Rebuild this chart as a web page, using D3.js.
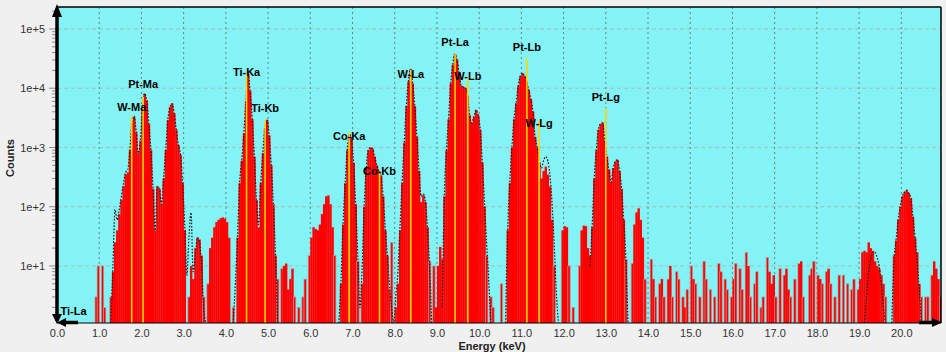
<!DOCTYPE html>
<html>
<head>
<meta charset="utf-8">
<script src="https://cdn.jsdelivr.net/npm/d3@7"></script>
<style>
body{margin:0;background:#f0f0f0;}
svg{display:block;font-family:"Liberation Sans",Arial,sans-serif;}
</style>
</head>
<body>
<svg id="chart" width="946" height="352"></svg>
<script>
// spectrum, counts per 0.05 keV channel group, one row per keV
const binWidth = 0.05;
const counts = [
  [0,0,0,0,0,0,0,0,0,0,0,0,0,0,0,0,0,0,3,10],
  [0,10,2,0,0,3,8,25,40,75,130,220,350,380,900,2600,3300,1800,800,1300],
  [4500,8000,6200,2500,900,200,40,220,200,110,300,900,2900,4800,5500,3800,2000,1100,750,250],
  [40,0,3,10,6,20,30,28,15,3,0,5,20,30,45,55,60,64,66,63],
  [55,30,0,2,0,30,250,600,1700,6000,17500,9000,3000,700,130,45,250,800,2100,2900],
  [1600,500,110,15,6,0,9,10,11,4,6,9,3,0,2,0,3,6,0,15],
  [30,45,42,40,50,75,110,150,155,110,45,15,0,0,5,50,250,900,1650,1400],
  [550,110,12,0,5,100,450,900,1000,950,700,500,400,330,150,40,15,4,25,0],
  [2,5,40,250,1200,5000,13000,21000,12000,5000,1500,400,120,155,120,45,12,0,10,2],
  [10,21,13,150,900,3000,12000,25000,38000,30000,18000,11000,10500,10000,7500,3500,2600,3300,4300,3500],
  [2000,550,100,15,0,3,2,0,0,0,5,0,0,40,250,1000,3000,5600,11000,16000],
  [18000,16000,13000,9300,6500,4000,1500,1000,550,300,400,475,350,220,60,10,0,0,0,40],
  [47,45,10,0,2,0,0,10,40,48,47,20,15,45,300,900,2000,2500,2600,1300],
  [700,420,260,450,580,620,400,200,60,13,0,0,11,50,80,94,60,30,6,0],
  [0,13,6,3,0,5,6,3,0,6,10,3,0,8,6,0,3,2,4,0],
  [10,6,5,0,3,0,12,6,0,4,0,3,0,11,8,0,6,4,0,3],
  [6,11,0,9,4,0,17,10,3,0,5,8,0,2,3,0,14,8,5,7],
  [3,0,9,0,7,9,4,3,0,6,0,11,12,3,0,0,7,9,12,0],
  [7,6,5,0,8,9,5,0,3,0,7,0,7,0,5,0,4,6,0,4],
  [6,17,18,17,25,20,18,12,10,9,7,5,3,0,0,0,15,27,60,100],
  [150,175,190,170,140,68,30,17,5,3,0,3,3,0,7,12,9,6,3,0]
];

// fitted envelope (dotted), each segment starts at fitStart[k] keV, same 0.05 keV step
const fitStart = [1.25, 4.15, 6.65, 9.1, 10.6, 12.6, 19.1, 19.75];
const fitCounts = [
  [1,10,90,60,90,150,250,380,420,900,2600,3400,1900,800,1300,4500,8200,6200,2500,900,200,40,220,200,110,300,900,2900,4800,5500,3800,2000,1100,750,250,50,7,30,80,8,15,30,25,10,2,1],
  [1,5,30,250,600,1700,6000,17500,9000,3000,700,130,50,250,800,2100,2900,1600,500,110,15,1],
  [1,5,50,250,900,1650,1400,550,110,15,2,8,100,450,900,1000,950,700,500,400,330,150,45,15,5,2,1,3,8,45,260,1200,5000,13000,21000,12000,5000,1500,420,150,165,125,45,10,1],
  [2,150,900,3000,12000,25000,38000,30000,18000,11000,10500,10000,7500,3500,2600,3300,4300,3500,2000,550,120,25,6,1],
  [1,40,250,1000,3000,5600,11000,16000,18000,16000,13000,9300,6500,4000,1500,1000,600,450,600,700,600,350,120,25,4,1],
  [10,45,300,900,2000,2500,2600,1300,700,420,260,450,580,620,400,200,60,13,1],
  [1,3,8,13,17,17,14,10,5,2,1],
  [1,12,27,60,100,150,175,190,170,140,68,30,12,4,1]
];

// element lines
const lineNames = ['Ti-La','W-Ma','Pt-Ma','Ti-Ka','Ti-Kb','Co-Ka','Co-Kb','W-La','Pt-La','W-Lb','Pt-Lb','W-Lg','Pt-Lg'];
const lineEnergy = [0.39,1.77,2.04,4.49,4.93,6.92,7.64,8.38,9.43,9.73,11.13,11.42,13.0];
const lineTop = [0,3270,7130,18100,2920,1830,373,20400,39400,14900,32500,2920,4650];
const labelCount = [1.7,4830,11500,18600,4590,1580,406,17400,60400,15700,49200,2560,6940];

const xTicks = d3.range(0, 21, 1);
const yTicks = [1e1, 1e2, 1e3, 1e4, 1e5];

const W = 946, H = 352;
const pLeft = 57, pRight = 941, pTop = 7, pBottom = 323;

const x = d3.scaleLinear().domain([0, 20.94]).range([pLeft, pRight]);
const y = d3.scaleLog().domain([1.09, 2.35e5]).range([pBottom, pTop]);

const svg = d3.select('#chart');
svg.append('rect').attr('width', W).attr('height', H).attr('fill', '#f0f0f0');
svg.append('defs').append('clipPath').attr('id', 'clip')
  .append('rect').attr('x', pLeft).attr('y', pTop).attr('width', pRight - pLeft).attr('height', pBottom - pTop);

svg.append('rect').attr('x', pLeft).attr('y', pTop).attr('width', pRight - pLeft).attr('height', pBottom - pTop)
  .attr('fill', '#84f3f5');

// grid
const grid = svg.append('g');
grid.selectAll('.hgrid').data(yTicks).enter().append('line')
  .attr('x1', pLeft).attr('x2', pRight)
  .attr('y1', d => y(d)).attr('y2', d => y(d))
  .attr('stroke', '#a9bcbd').attr('stroke-width', 1).attr('stroke-dasharray', '4,3');
grid.selectAll('.vgrid').data(xTicks.slice(1)).enter().append('line')
  .attr('x1', d => x(d)).attr('x2', d => x(d))
  .attr('y1', pTop).attr('y2', pBottom)
  .attr('stroke', '#6a8283').attr('stroke-width', 1).attr('stroke-dasharray', '2,3');

const plot = svg.append('g').attr('clip-path', 'url(#clip)');

// bars
const flat = counts.flat();
const bins = flat.map((c, i) => ({e: i * binWidth, c: c, lone: (flat[i - 1] || 0) === 0 || (flat[i + 1] || 0) === 0}));
plot.selectAll('.bar').data(bins.filter(d => d.c > 1.09)).enter().append('rect')
  .attr('x', d => x(d.e))
  .attr('width', d => x(d.e + binWidth) - x(d.e) + 0.3)
  .attr('y', d => y(d.c))
  .attr('height', d => pBottom - y(d.c))
  .attr('fill', '#ff0000')
  .attr('stroke', d => (d.c < 30 && d.lone) ? '#a8a8a8' : 'none')
  .attr('stroke-width', 0.7);

// fitted envelope
const fitLine = d3.line().x(d => x(d[0])).y(d => y(Math.max(d[1], 1.09))).curve(d3.curveMonotoneX);
for(let k = 0; k < fitStart.length; k++){
  let pts = fitCounts[k].map((c, j) => [fitStart[k] + j * binWidth + binWidth / 2, c]);
  plot.append('path').attr('d', fitLine(pts))
    .attr('fill', 'none').attr('stroke', '#1a1a1a').attr('stroke-width', 1.2)
    .attr('stroke-dasharray', '1.6,1.6');
}

// element markers
const markers = lineNames.map((n, i) => ({name: n, e: lineEnergy[i], top: lineTop[i], lab: labelCount[i]}));
plot.selectAll('.marker').data(markers.filter(d => d.top > 1.09)).enter().append('line')
  .attr('x1', d => x(d.e)).attr('x2', d => x(d.e))
  .attr('y1', pBottom).attr('y2', d => y(d.top))
  .attr('stroke', '#ffd400').attr('stroke-width', 1.6);

svg.selectAll('.elabel').data(markers).enter().append('text')
  .attr('x', d => x(d.e)).attr('y', d => y(d.lab)).attr('dy', '0.35em')
  .attr('text-anchor', 'middle')
  .attr('font-size', 11).attr('font-weight', 'bold').attr('fill', '#000')
  .text(d => d.name);

// frame
svg.append('line').attr('x1', pLeft).attr('x2', pRight).attr('y1', pTop).attr('y2', pTop).attr('stroke', '#000').attr('stroke-width', 1.5);
svg.append('line').attr('x1', pRight).attr('x2', pRight).attr('y1', pTop).attr('y2', pBottom).attr('stroke', '#000').attr('stroke-width', 1.5);
svg.append('line').attr('x1', pLeft).attr('x2', pRight).attr('y1', pBottom).attr('y2', pBottom).attr('stroke', '#000').attr('stroke-width', 1.2);

// y minor ticks
const minor = [];
for(let d = 1; d <= 1e5; d *= 10){
  for(let m = 1; m < 10; m++){
    if(d * m >= 1.09 && d * m <= 2.35e5) minor.push(d * m);
  }
}
svg.selectAll('.ymin').data(minor).enter().append('line')
  .attr('x1', d => yTicks.includes(d) ? pLeft - 8 : pLeft - 5).attr('x2', pLeft - 1)
  .attr('y1', d => y(d)).attr('y2', d => y(d))
  .attr('stroke', '#8c8c8c').attr('stroke-width', 1);

// axes labels
const xAxis = d3.axisBottom(x).tickValues(xTicks).tickSize(0).tickPadding(6).tickFormat(d3.format('.1f'));
const gx = svg.append('g').attr('transform', `translate(0,${pBottom})`).call(xAxis);
gx.select('.domain').remove();
gx.selectAll('text').attr('font-size', 11).attr('fill', '#333').attr('font-family', '"Liberation Sans",Arial,sans-serif');

const yAxis = d3.axisLeft(y).tickValues(yTicks).tickSize(0).tickPadding(12).tickFormat(d => '1e+' + Math.round(Math.log10(d)));
const gy = svg.append('g').attr('transform', `translate(${pLeft},0)`).call(yAxis);
gy.select('.domain').remove();
gy.selectAll('text').attr('font-size', 11).attr('fill', '#333').attr('font-family', '"Liberation Sans",Arial,sans-serif');

// left axis bar with arrows
svg.append('line').attr('x1', pLeft).attr('x2', pLeft).attr('y1', pTop + 6).attr('y2', pBottom - 2)
  .attr('stroke', '#000').attr('stroke-width', 3.5);
svg.append('path').attr('d', `M${pLeft - 5},${pTop + 10} L${pLeft},${pTop - 3} L${pLeft + 5},${pTop + 10} Z`).attr('fill', '#000');
svg.append('path').attr('d', `M${pLeft - 5},${pBottom - 9} L${pLeft},${pBottom + 1} L${pLeft + 5},${pBottom - 9} Z`).attr('fill', '#000');
svg.append('line').attr('x1', pLeft + 4).attr('x2', pLeft + 21).attr('y1', pBottom - 0.5).attr('y2', pBottom - 0.5)
  .attr('stroke', '#000').attr('stroke-width', 3.5);
svg.append('path').attr('d', `M${pLeft + 9},${pBottom - 5} L${pLeft},${pBottom - 0.5} L${pLeft + 9},${pBottom + 4} Z`).attr('fill', '#000');
svg.append('line').attr('x1', pRight - 22).attr('x2', pRight - 6).attr('y1', pBottom - 0.5).attr('y2', pBottom - 0.5)
  .attr('stroke', '#000').attr('stroke-width', 3.5);
svg.append('path').attr('d', `M${pRight - 9},${pBottom - 5} L${pRight + 1},${pBottom - 0.5} L${pRight - 9},${pBottom + 4} Z`).attr('fill', '#000');

svg.append('text').attr('x', 492).attr('y', 350).attr('text-anchor', 'middle')
  .attr('font-size', 11).attr('font-weight', 'bold').attr('fill', '#222').text('Energy (keV)');
svg.append('text').attr('transform', 'translate(10,158) rotate(-90)').attr('dy', '0.35em').attr('text-anchor', 'middle')
  .attr('font-size', 11).attr('font-weight', 'bold').attr('fill', '#222').text('Counts');
</script>
</body>
</html>
